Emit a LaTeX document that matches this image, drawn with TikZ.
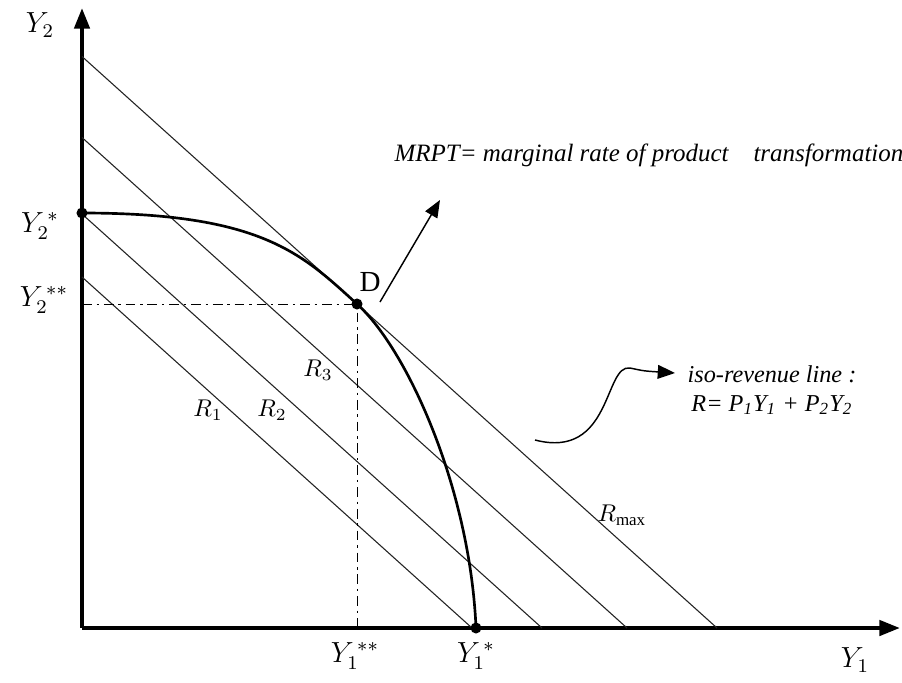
\documentclass[tikz,border=0pt]{standalone}
\usepackage{fontspec}
\setmainfont{Liberation Serif}
\usetikzlibrary{arrows.meta, positioning, calc}
\tikzset{
  every picture/.style={line width=0.4pt},
  axis/.style={line width=1.7pt, -{Triangle[length=3mm, width=2.2mm]}},
  isoline/.style={line width=0.45pt, draw=black!85},
  frontier/.style={line width=1.1pt},
  guide/.style={line width=0.4pt, dash pattern=on 4pt off 2pt on 1pt off 2pt},
  dot/.style={circle, fill, inner sep=0pt, minimum size=1.6mm},
  lbl/.style={font=\large},
  note/.style={font=\itshape, align=center},
  pointer/.style={-{Triangle[length=2.5mm, width=2mm]}, line width=0.6pt},
}
\begin{document}
\begin{tikzpicture}[x=1.45cm, y=1.45cm]
  \useasboundingbox (-0.82,-0.54) rectangle (8.20,6.28);
  % axes
  \coordinate (O) at (0,0);
  \coordinate (ytip) at (0,6.2);
  \coordinate (xtip) at (8.18,0);
  \draw[axis] (O) -- (ytip);
  \draw[axis] (O) -- (xtip);
  % iso-revenue lines, all with slope -0.9
  \foreach \c in {3.9, 4.6, 5.45, 6.35} \draw[isoline] (0,0.9*\c) -- (\c,0);
  % production possibility frontier
  \coordinate (Y2s) at (0,4.15);
  \coordinate (Y1s) at (3.94,0);
  \coordinate (D) at (2.75,3.24);
  \draw[guide] (0,3.24) -- (D) -- (2.75,0);
  \draw[frontier] (Y2s) .. controls (1.8,4.15) and (2.2,3.74) .. (D) .. controls (3.25,2.79) and (3.88,1.4) .. (Y1s);
  \foreach \p in {Y2s, Y1s, D} \node[dot] (dot\p) at (\p) {};
  % axis labels
  \node[lbl] (y2) at (-0.42,6.03) {$Y_2$};
  \node[lbl] (y2s) at (-0.42,4.02) {$Y_2^{\,*}$};
  \node[lbl] (y2ss) at (-0.38,3.28) {$Y_2^{\,**}$};
  \node[lbl] (y1ss) at (2.73,-0.28) {$Y_1^{\,**}$};
  \node[lbl] (y1s) at (3.94,-0.28) {$Y_1^{\,*}$};
  \node[lbl] (y1) at (7.73,-0.32) {$Y_1$};
  \node[lbl] (dlbl) at (2.88,3.46) {D};
  % line labels
  \node (r1) at (1.26,2.18) {$R_1$};
  \node (r2) at (1.90,2.18) {$R_2$};
  \node (r3) at (2.36,2.58) {$R_3$};
  \node (rmax) at (5.40,1.13) {$R_{\max}$};
  % notes
  \node[note, anchor=west, font=\itshape\fontsize{10.3}{12}\selectfont] (mrpt) at (3.04,4.73) {MRPT= marginal rate of product\ \ \ \ transformation};
  \coordinate (mrptfoot) at (2.98,3.26);
  \coordinate (mrpttip) at (3.58,4.28);
  \draw[pointer] (mrptfoot) -- (mrpttip);
  \node[note] (iso) at (6.9,2.38) {iso-revenue line :\\R= P\textsubscript{1}Y\textsubscript{1} + P\textsubscript{2}Y\textsubscript{2}};
  \coordinate (wavestart) at (4.53,1.88);
  \coordinate (wavetip) at (5.93,2.55);
  \draw[pointer] (wavestart) .. controls (5.3,1.68) and (5.22,2.64) .. (5.48,2.6) .. controls (5.62,2.57) .. (wavetip);
\end{tikzpicture}
\end{document}
